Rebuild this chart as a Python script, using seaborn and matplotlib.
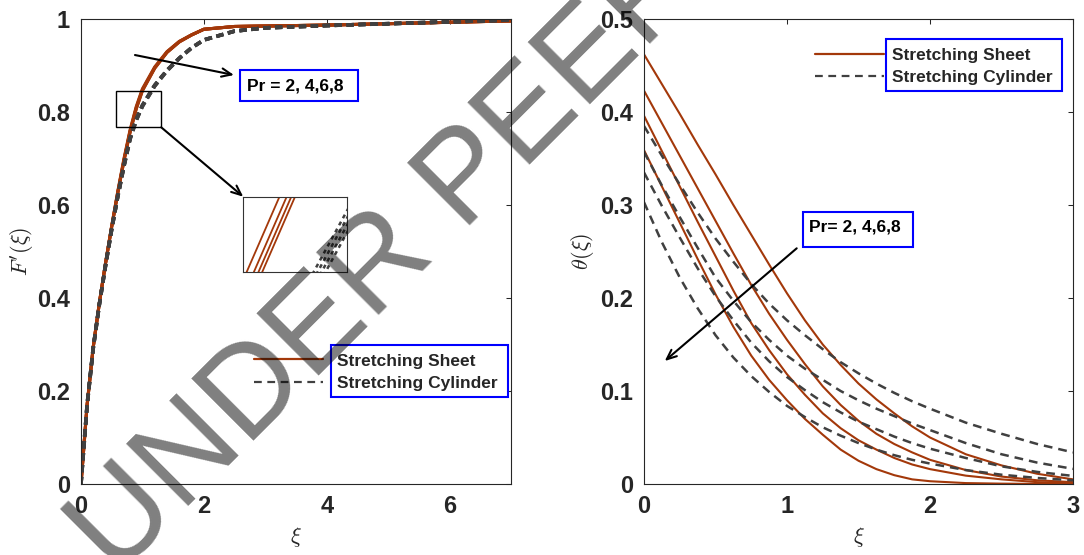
import matplotlib
matplotlib.use("Agg")
import matplotlib.pyplot as plt
from matplotlib.patches import Rectangle
from matplotlib.lines import Line2D
import seaborn as sns

sns.set_style("white")
plt.rcParams["font.family"] = ["Liberation Sans", "DejaVu Sans"]
plt.rcParams["mathtext.fontset"] = "cm"

BROWN = "#A3380A"
GREY = "#404040"
AXC = "#262626"

# ---- left panel: F'(xi) ----
xi_f = [0, 0.1, 0.2, 0.3, 0.4, 0.5, 0.6, 0.7, 0.8, 0.9, 1.0, 1.2, 1.4, 1.6, 1.8, 2.0, 2.5, 3, 4, 5, 6, 7]
f_sheet = [
    [0, .170, .295, .390, .475, .555, .630, .700, .762, .812, .850, .897, .930, .952, .966, .978, .984, .985, .987, .990, .993, .996],
    [0, .170, .295, .390, .475, .554, .628, .6975, .7595, .8095, .848, .8955, .929, .9515, .966, .978, .984, .985, .987, .990, .993, .996],
    [0, .170, .295, .390, .475, .5535, .627, .696, .7579, .8079, .8465, .8945, .9285, .951, .9658, .978, .984, .985, .987, .990, .993, .996],
    [0, .170, .295, .390, .475, .553, .6265, .695, .7566, .8066, .8455, .894, .928, .9505, .9655, .978, .984, .985, .987, .990, .993, .996],
]
f_cyl = [
    [0, .170, .293, .387, .470, .548, .620, .686, .745, .785, .815, .858, .890, .916, .938, .955, .974, .981, .986, .990, .994, .998],
    [0, .170, .293, .387, .470, .548, .6195, .685, .7439, .7839, .814, .8572, .8895, .9157, .938, .955, .974, .981, .986, .990, .994, .998],
    [0, .170, .293, .387, .470, .548, .619, .684, .7428, .7828, .813, .8564, .889, .9154, .938, .955, .974, .981, .986, .990, .994, .998],
    [0, .170, .293, .387, .470, .548, .6185, .683, .7417, .7817, .812, .8556, .8885, .9151, .938, .955, .974, .981, .986, .990, .994, .998],
]

# ---- right panel: theta(xi) ----
xi_t = [0, .125, .25, .375, .5, .625, .75, .875, 1.0, 1.125, 1.25, 1.375, 1.5,
        1.625, 1.75, 1.875, 2.0, 2.25, 2.5, 2.75, 3.0]
t_sheet = [
    [.462, .430, .398, .365, .333, .300, .268, .236, .205, .176, .150, .128, .108, .091, .076, .062, .050, .032, .020, .011, .005],
    [.423, .388, .353, .318, .283, .248, .214, .183, .155, .129, .105, .085, .068, .054, .043, .034, .026, .015, .008, .004, .002],
    [.396, .358, .320, .282, .245, .208, .173, .144, .118, .096, .076, .060, .047, .037, .028, .021, .016, .009, .005, .002, .001],
    [.359, .320, .281, .242, .204, .169, .138, .112, .090, .070, .053, .037, .025, .016, .0095, .005, .003, .001, .0004, .0001, 0],
]
t_cyl = [
    [.385, .353, .322, .292, .264, .239, .215, .194, .176, .160, .145, .131, .119, .108, .098, .089, .081, .066, .054, .043, .034],
    [.357, .321, .287, .254, .222, .197, .174, .155, .138, .124, .112, .100, .090, .081, .073, .065, .058, .044, .032, .023, .0163],
    [.335, .299, .265, .232, .202, .176, .152, .132, .115, .101, .088, .077, .067, .059, .051, .044, .038, .028, .019, .013, .0087],
    [.303, .260, .222, .189, .160, .136, .116, .099, .084, .072, .061, .052, .044, .037, .031, .026, .022, .015, .010, .0065, .004],
]

legend_labels = ["Stretching Sheet", "Stretching Cylinder"]
pr_text_left = "Pr = 2, 4,6,8"
pr_text_right = "Pr= 2, 4,6,8"


def draw(ax, x, sheets, cyls, lw_s, lw_d, dash):
    for y in sheets:
        sns.lineplot(x=x, y=y, ax=ax, color=BROWN, lw=lw_s, errorbar=None)
    for y in cyls:
        sns.lineplot(x=x, y=y, ax=ax, color=GREY, lw=lw_d, errorbar=None,
                     linestyle=(0, dash))


def style(ax, xt, yt):
    ax.set_xticks(xt)
    ax.set_yticks(yt)
    ax.set_xticklabels([f"{v:g}" for v in xt], fontweight="bold")
    ax.set_yticklabels([f"{v:g}" for v in yt], fontweight="bold")
    ax.tick_params(direction="in", length=3.6, width=0.75, top=True, right=True,
                   pad=8, labelsize=17, colors=AXC)
    for s in ax.spines.values():
        s.set_color(AXC)
        s.set_linewidth(0.8)


def legend_box(ax, anchor, hlen, hpad, lspace, box, dash):
    handles = [Line2D([], [], color=BROWN, lw=1.6),
               Line2D([], [], color=GREY, lw=1.6, linestyle=(0, dash))]
    ax.legend(handles, legend_labels, loc="center left", bbox_to_anchor=anchor,
              frameon=False, borderpad=0, borderaxespad=0, handlelength=hlen,
              handletextpad=hpad, labelspacing=lspace,
              prop={"weight": "bold", "size": 12.5})
    ax.add_patch(Rectangle(box[:2], box[2], box[3], transform=ax.transAxes,
                           facecolor="white", edgecolor="blue", lw=1.5, zorder=4))


def text_box(ax, txt, tpos, box):
    ax.add_patch(Rectangle(box[:2], box[2], box[3], transform=ax.transAxes,
                           facecolor="white", edgecolor="blue", lw=1.5, zorder=4))
    ax.text(tpos[0], tpos[1], txt, transform=ax.transAxes, ha="left", va="center",
            fontsize=12.5, fontweight="bold", color="k", zorder=6)


def arrow(ax, start, tip):
    ax.annotate("", xy=tip, xytext=start, xycoords="axes fraction",
                textcoords="axes fraction",
                arrowprops=dict(arrowstyle="->,head_length=0.7,head_width=0.3",
                                lw=1.5, color="k", shrinkA=0, shrinkB=0))


fig = plt.figure(figsize=(10.84, 5.55), dpi=100)
ax1 = fig.add_axes([0.0747, 0.1279, 0.3967, 0.8378])
ax2 = fig.add_axes([0.5941, 0.1279, 0.3958, 0.8378])

# left
draw(ax1, xi_f, f_sheet, f_cyl, 2.2, 2.6, (2, 1.3))
ax1.set_xlim(0, 7)
ax1.set_ylim(0, 1)
style(ax1, [0, 2, 4, 6], [0, 0.2, 0.4, 0.6, 0.8, 1])
ax1.set_xlabel(r"$\xi$", fontsize=16, color=AXC)
ax1.set_ylabel(r"$F'(\xi)$", fontsize=16, color=AXC)
ax1.xaxis.set_label_coords(0.5, -0.114)
ax1.xaxis.label.set_va("center")
ax1.yaxis.set_label_coords(-0.137, 0.5)
ax1.yaxis.label.set_va("center")

ax1.add_patch(Rectangle((0.565, 0.767), 0.742, 0.079, fill=False, edgecolor="k", lw=1.0, zorder=5))
text_box(ax1, pr_text_left, (0.386, 0.856), (0.3698, 0.8237, 0.2744, 0.0666))
arrow(ax1, (0.1256, 0.9226), (0.3558, 0.8796))
arrow(ax1, (0.1867, 0.7671), (0.3774, 0.6178))
legend_box(ax1, (0.403, 0.2409), 3.95, 0.8, 0.4,
           (0.5814, 0.1865, 0.4109, 0.1124), (3.5, 2.5))

# inset
axin = fig.add_axes([0.2245, 0.5099, 0.0954, 0.1346])
draw(axin, xi_f, f_sheet, f_cyl, 1.3, 1.8, (1.6, 1.6))
axin.set_xlim(0.8137, 0.8855)
axin.set_ylim(0.77, 0.7813)
axin.set_xticks([])
axin.set_yticks([])
axin.set_xlabel("")
axin.set_ylabel("")
for s in axin.spines.values():
    s.set_color("#333333")
    s.set_linewidth(0.8)

# right
draw(ax2, xi_t, t_sheet, t_cyl, 1.5, 1.8, (3.5, 2.4))
ax2.set_xlim(0, 3)
ax2.set_ylim(0, 0.5)
style(ax2, [0, 1, 2, 3], [0, 0.1, 0.2, 0.3, 0.4, 0.5])
ax2.set_xlabel(r"$\xi$", fontsize=16, color=AXC)
ax2.set_ylabel(r"$\theta(\xi)$", fontsize=16, color=AXC)
ax2.xaxis.set_label_coords(0.5, -0.114)
ax2.xaxis.label.set_va("center")
ax2.yaxis.set_label_coords(-0.1445, 0.5)
ax2.yaxis.label.set_va("center")

legend_box(ax2, (0.398, 0.898), 4.0, 0.45, 0.38,
           (0.5641, 0.8458, 0.4096, 0.1105), (3.5, 2.5))
text_box(ax2, pr_text_right, (0.3853, 0.5533), (0.3713, 0.509, 0.2564, 0.0753))
arrow(ax2, (0.3559, 0.5069), (0.0483, 0.2645))

# watermark
fig.text(0.535, 0.8775, "UNDER PEER REVIEW", rotation=45, rotation_mode="anchor",
         ha="center", va="center", fontsize=92, color="k", alpha=0.5, zorder=100)

fig.savefig("out.png", dpi=100)
